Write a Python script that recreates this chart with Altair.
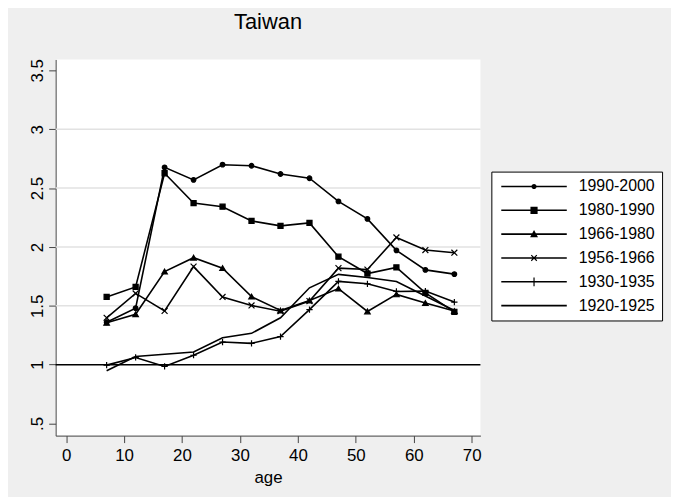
import altair as alt
import pandas as pd

# ---- data ----
ages = [7, 12, 17, 22, 27, 32, 37, 42, 47, 52, 57, 62, 67]
series_names = ["1990-2000", "1980-1990", "1966-1980", "1956-1966", "1930-1935", "1920-1925"]

v_1990_2000 = [1.36, 1.48, 2.676, 2.57, 2.699, 2.69, 2.62, 2.584, 2.387, 2.238, 1.971, 1.805, 1.769]
v_1980_1990 = [1.575, 1.66, 2.626, 2.373, 2.342, 2.221, 2.179, 2.204, 1.917, 1.774, 1.826, 1.609, 1.449]
v_1966_1980 = [1.356, 1.428, 1.791, 1.909, 1.82, 1.578, 1.46, 1.545, 1.646, 1.452, 1.597, 1.524, 1.455]
v_1956_1966 = [1.398, 1.605, 1.456, 1.833, 1.575, 1.503, 1.454, 1.54, 1.82, 1.808, 2.081, 1.974, 1.951]
v_1930_1935 = [0.996, 1.061, 0.985, 1.08, 1.192, 1.181, 1.238, 1.468, 1.707, 1.687, 1.622, 1.625, 1.532]
v_1920_1925 = [0.948, 1.069, 1.089, 1.108, 1.229, 1.266, 1.398, 1.653, 1.767, 1.74, 1.707, 1.583, 1.46]

x_ticks = [0, 10, 20, 30, 40, 50, 60, 70]
y_ticks = [0.5, 1, 1.5, 2, 2.5, 3, 3.5]
grid_values = [1.5, 2, 2.5, 3]
reference_value = [1]

all_values = [v_1990_2000, v_1980_1990, v_1966_1980, v_1956_1966, v_1930_1935, v_1920_1925]
rows = []
for name, vals in zip(series_names, all_values):
    for a, v in zip(ages, vals):
        rows.append({"series": name, "age": a, "value": v})
df = pd.DataFrame(rows)

FONT = "Liberation Sans"

marker_names = series_names[:5]
marker_shapes = ["circle", "square", "triangle-up",
                 "M-1,-1L1,1M-1,1L1,-1", "M-1,0L1,0M0,-1L0,1"]
marker_sizes = [22, 40, 56, 45, 70]

# legend symbols: filled outlines only (line segment + marker), all with the same winding
LINE = "M-1.25,-0.2L-1.25,0.2L15.25,0.2L15.25,-0.2Z"
legend_shapes = [
    LINE + "M7.65,0A0.65,0.65,0,1,0,6.35,0A0.65,0.65,0,1,0,7.65,0Z",
    LINE + "M6.1,-0.9L6.1,0.9L7.9,0.9L7.9,-0.9Z",
    LINE + "M7,-1.05L6.0,0.8L8.0,0.8Z",
    LINE + "M6.194,-0.594L7.594,0.806L7.806,0.594L6.406,-0.806Z"
         + "M6.406,0.806L7.806,-0.594L7.594,-0.806L6.194,0.594Z",
    LINE + "M6.85,-1.1L6.85,1.1L7.15,1.1L7.15,-1.1Z",
    LINE,
]

x_scale = alt.Scale(domain=[-1.8, 71.5], nice=False, zero=False)
y_scale = alt.Scale(domain=[0.397, 3.593], nice=False, zero=False)

x_axis = alt.Axis(values=x_ticks, format="d", tickSize=7, labelFontSize=17, labelPadding=5,
                  labelFont=FONT, labelColor="black", domainColor="#444", tickColor="#444",
                  title="age", titleFont=FONT, titleFontSize=17, titleFontWeight="normal",
                  titleColor="black", titleBaseline="alphabetic", titleY=47, grid=False,
                  labelFlush=False)
y_axis = alt.Axis(values=y_ticks, tickSize=7, labelFontSize=17, labelPadding=6,
                  labelFont=FONT, labelColor="black", domainColor="#444", tickColor="#444",
                  labelAngle=270, labelAlign="center", labelBaseline="alphabetic",
                  labelExpr="datum.value == 0.5 ? '.5' : datum.label",
                  format="~g", title=None, grid=False, labelFlush=False, labelOverlap=False)

grid = alt.Chart(pd.DataFrame({"g": grid_values})).mark_rule(
    color="#e2e2e2", strokeWidth=1.5
).encode(y=alt.Y("g:Q", scale=y_scale, axis=y_axis))

ref = alt.Chart(pd.DataFrame({"r": reference_value})).mark_rule(
    color="black", strokeWidth=1.5
).encode(y=alt.Y("r:Q", scale=y_scale, axis=y_axis))

lines = alt.Chart(df).mark_line(color="black", strokeWidth=1.6).encode(
    x=alt.X("age:Q", scale=x_scale, axis=x_axis),
    y=alt.Y("value:Q", scale=y_scale, axis=y_axis),
    detail="series:N",
    order="age:Q",
)

markers = alt.Chart(df).transform_filter(
    alt.datum.series != "1920-1925"
).mark_point(filled=True, fill="black", stroke="black", strokeWidth=1.2, opacity=1).encode(
    x=alt.X("age:Q", scale=x_scale, axis=x_axis),
    y=alt.Y("value:Q", scale=y_scale, axis=y_axis),
    shape=alt.Shape("series:N", scale=alt.Scale(domain=marker_names, range=marker_shapes), legend=None),
    size=alt.Size("series:N", scale=alt.Scale(domain=marker_names, range=marker_sizes), legend=None),
)

legend_layer = alt.Chart(df).transform_calculate(
    legend_series="datum.series"
).mark_point(filled=True, fill="black", opacity=0, size=64).encode(
    x=alt.X("age:Q", scale=x_scale, axis=x_axis),
    y=alt.Y("value:Q", scale=y_scale, axis=y_axis),
    shape=alt.Shape(
        "legend_series:N",
        scale=alt.Scale(domain=series_names, range=legend_shapes),
        legend=alt.Legend(
            title=None, orient="none", legendX=439, legendY=113,
            labelFont=FONT, labelFontSize=16, labelColor="black", labelLimit=300,
            labelOffset=65, symbolSize=64, symbolOpacity=1,
            symbolFillColor="black",
            rowPadding=8, padding=7, strokeColor="black", fillColor="white",
        ),
    ),
)

chart = alt.layer(grid, ref, lines, markers, legend_layer).resolve_scale(
    shape="independent", size="independent"
).properties(
    width=428, height=379,
    autosize=alt.AutoSizeParams(type="none"),
    padding={"left": 48, "top": 50, "right": 192, "bottom": 60},
    background="#efefef",
    title=alt.TitleParams("Taiwan", font=FONT, fontSize=22, fontWeight="normal", color="black",
                          anchor="middle", frame="group", offset=8, baseline="alphabetic"),
).configure_view(stroke=None, fill="white")

chart.save("out.html", embed_options={"renderer": "svg", "actions": False})
